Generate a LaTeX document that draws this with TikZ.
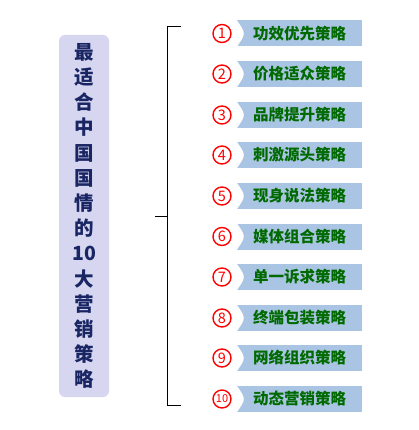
\documentclass[tikz,border=0pt]{standalone}
\usepackage{fontspec}
\newfontfamily\cjk{Noto Sans CJK SC}
\usetikzlibrary{positioning}
\definecolor{titlefill}{RGB}{214,214,240}
\definecolor{titletext}{RGB}{26,38,100}
\definecolor{itemfill}{RGB}{170,197,228}
\definecolor{itemtext}{RGB}{0,105,0}
\tikzset{
  every picture/.style={line width=1pt},
  stitle/.style={fill=titlefill, rounded corners=6pt, minimum width=50, minimum height=362,
                 text=titletext, align=center, inner sep=0pt,
                 font=\cjk\bfseries\fontsize{19.5}{25.2}\selectfont},
  snum/.style={circle, draw=red, line width=1.4pt, minimum size=18, inner sep=0pt,
               text=red, font=\cjk\fontsize{14.5}{14.5}\selectfont},
  snumtwo/.style={snum, font=\cjk\fontsize{11}{11}\selectfont},
  sitem/.style={fill=itemfill, minimum width=125, minimum height=26, inner sep=0pt,
                text=itemtext, font=\cjk\bfseries\fontsize{15.5}{15.5}\selectfont,
                path picture={\fill[white] (path picture bounding box.north west)
                  .. controls ([xshift=9pt]path picture bounding box.west)
                  .. (path picture bounding box.south west) -- cycle;}},
  sbrace/.style={black, line cap=rect},
}

\begin{document}
\begin{tikzpicture}[x=1pt, y=-1pt]
\useasboundingbox (0,0) rectangle (419,430);
\node[stitle] (title) at (84,216) {最\\适\\合\\中\\国\\国\\情\\的\\10\\大\\营\\销\\策\\略};
% brace
\coordinate (btop) at (180,27); \coordinate (bbot) at (180,405); \coordinate (bmid) at (155,216);
\draw[sbrace] (btop) -- (167,27) -- (167,405) -- (bbot);
\draw[sbrace] (bmid) -- (167,216);
% items
\node[snum] (n1) at (222,33.5) {1}; \node[sitem] (s1) at (299.5,33.5) {功效优先策略};
\node[snum] (n2) at (222,74) {2}; \node[sitem] (s2) at (299.5,74) {价格适众策略};
\node[snum] (n3) at (222,115) {3}; \node[sitem] (s3) at (299.5,115) {品牌提升策略};
\node[snum] (n4) at (222,155) {4}; \node[sitem] (s4) at (299.5,155) {刺激源头策略};
\node[snum] (n5) at (222,196) {5}; \node[sitem] (s5) at (299.5,196) {现身说法策略};
\node[snum] (n6) at (222,236.5) {6}; \node[sitem] (s6) at (299.5,236.5) {媒体组合策略};
\node[snum] (n7) at (222,277) {7}; \node[sitem] (s7) at (299.5,277) {单一诉求策略};
\node[snum] (n8) at (222,318) {8}; \node[sitem] (s8) at (299.5,318) {终端包装策略};
\node[snum] (n9) at (222,358) {9}; \node[sitem] (s9) at (299.5,358) {网络组织策略};
\node[snumtwo] (n10) at (222,399) {10}; \node[sitem] (s10) at (299.5,399) {动态营销策略};
\end{tikzpicture}
\end{document}
